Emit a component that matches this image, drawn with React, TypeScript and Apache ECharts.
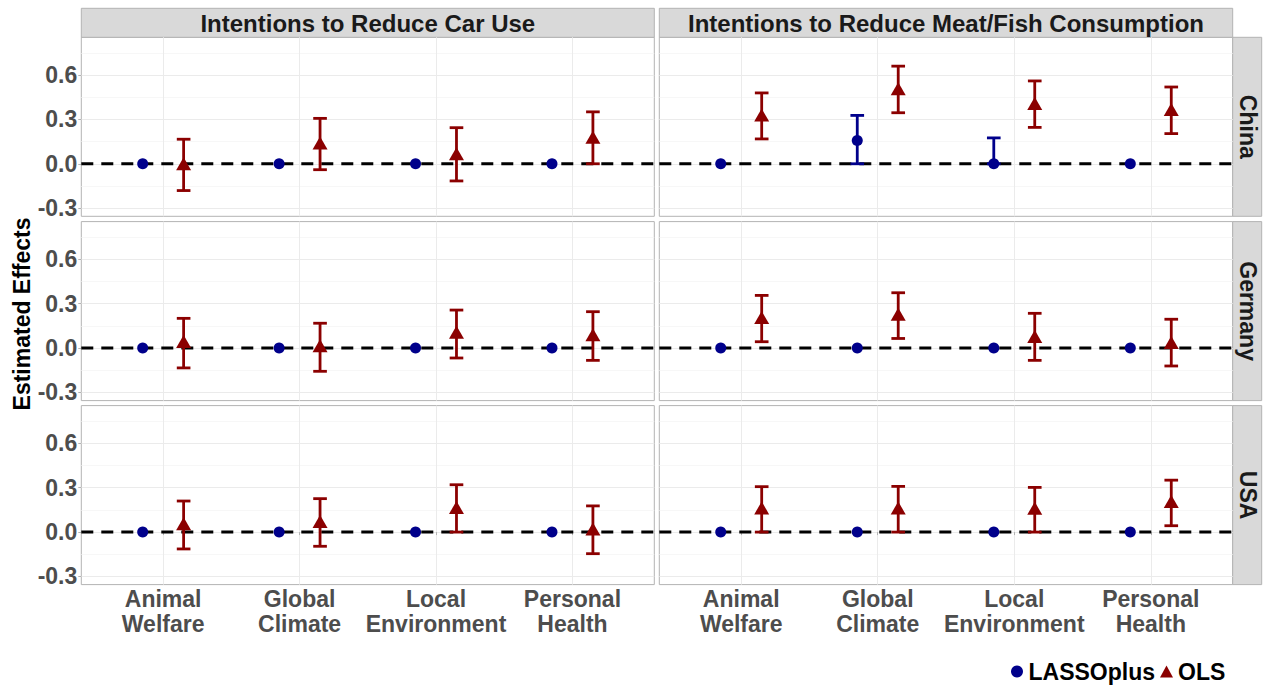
import { useEffect, useRef } from 'react';
import * as echarts from 'echarts';

// ---------- data ----------
const categories = ['Animal\nWelfare', 'Global\nClimate', 'Local\nEnvironment', 'Personal\nHealth'];
const outcomes = ['Intentions to Reduce Car Use', 'Intentions to Reduce Meat/Fish Consumption'];
const countries = ['China', 'Germany', 'USA'];
const yTicks = [-0.3, 0, 0.3, 0.6];
const yMinorTicks = [-0.15, 0.15, 0.45, 0.75];

// Car use
const carChinaOlsEst = [0.0, 0.14, 0.067, 0.18];
const carChinaOlsLow = [-0.181, -0.04, -0.116, 0.0];
const carChinaOlsHigh = [0.166, 0.307, 0.244, 0.351];
const carChinaLassoEst = [0, 0, 0, 0];
const carChinaLassoLow = [0, 0, 0, 0];
const carChinaLassoHigh = [0, 0, 0, 0];

const carGermanyOlsEst = [0.045, 0.016, 0.107, 0.09];
const carGermanyOlsLow = [-0.134, -0.157, -0.067, -0.083];
const carGermanyOlsHigh = [0.201, 0.168, 0.257, 0.246];
const carGermanyLassoEst = [0, 0, 0, 0];
const carGermanyLassoLow = [0, 0, 0, 0];
const carGermanyLassoHigh = [0, 0, 0, 0];

const carUsaOlsEst = [0.056, 0.072, 0.166, 0.02];
const carUsaOlsLow = [-0.114, -0.096, 0.0, -0.146];
const carUsaOlsHigh = [0.21, 0.226, 0.32, 0.177];
const carUsaLassoEst = [0, 0, 0, 0];
const carUsaLassoLow = [0, 0, 0, 0];
const carUsaLassoHigh = [0, 0, 0, 0];

// Meat / fish consumption
const meatChinaOlsEst = [0.329, 0.508, 0.407, 0.367];
const meatChinaOlsLow = [0.168, 0.345, 0.246, 0.204];
const meatChinaOlsHigh = [0.479, 0.66, 0.56, 0.519];
const meatChinaLassoEst = [0, 0.157, 0, 0];
const meatChinaLassoLow = [0, 0, 0, 0];
const meatChinaLassoHigh = [0, 0.327, 0.175, 0];

const meatGermanyOlsEst = [0.206, 0.228, 0.078, 0.038];
const meatGermanyOlsLow = [0.043, 0.065, -0.083, -0.121];
const meatGermanyOlsHigh = [0.356, 0.374, 0.235, 0.195];
const meatGermanyLassoEst = [0, 0, 0, 0];
const meatGermanyLassoLow = [0, 0, 0, 0];
const meatGermanyLassoHigh = [0, 0, 0, 0];

const meatUsaOlsEst = [0.163, 0.163, 0.161, 0.206];
const meatUsaOlsLow = [0.0, 0.0, 0.0, 0.043];
const meatUsaOlsHigh = [0.307, 0.309, 0.302, 0.351];
const meatUsaLassoEst = [0, 0, 0, 0];
const meatUsaLassoLow = [0, 0, 0, 0];
const meatUsaLassoHigh = [0, 0, 0, 0];

const facets = [
  { row: 0, col: 0, oE: carChinaOlsEst, oL: carChinaOlsLow, oH: carChinaOlsHigh, lE: carChinaLassoEst, lL: carChinaLassoLow, lH: carChinaLassoHigh },
  { row: 0, col: 1, oE: meatChinaOlsEst, oL: meatChinaOlsLow, oH: meatChinaOlsHigh, lE: meatChinaLassoEst, lL: meatChinaLassoLow, lH: meatChinaLassoHigh },
  { row: 1, col: 0, oE: carGermanyOlsEst, oL: carGermanyOlsLow, oH: carGermanyOlsHigh, lE: carGermanyLassoEst, lL: carGermanyLassoLow, lH: carGermanyLassoHigh },
  { row: 1, col: 1, oE: meatGermanyOlsEst, oL: meatGermanyOlsLow, oH: meatGermanyOlsHigh, lE: meatGermanyLassoEst, lL: meatGermanyLassoLow, lH: meatGermanyLassoHigh },
  { row: 2, col: 0, oE: carUsaOlsEst, oL: carUsaOlsLow, oH: carUsaOlsHigh, lE: carUsaLassoEst, lL: carUsaLassoLow, lH: carUsaLassoHigh },
  { row: 2, col: 1, oE: meatUsaOlsEst, oL: meatUsaOlsLow, oH: meatUsaOlsHigh, lE: meatUsaLassoEst, lL: meatUsaLassoLow, lH: meatUsaLassoHigh },
];

// ---------- layout / style ----------
const FONT = '"Liberation Sans", Arial, Helvetica, sans-serif';
const COL_LEFT = [81.3, 659.3];
const COL_W = [573, 573.4];
const ROW_TOP = [37.3, 221.6, 405.6];
const ROW_H = 179;
const STRIP_TOP = 8.3;
const RIGHT_STRIP_W = 29;
const BLUE = '#00008B';
const RED = '#8B0000';
const DODGE = 0.15;
const CAP = 0.1;

function errorBarSeries(name: string, color: string, gi: number, data: number[][]) {
  return {
    type: 'custom',
    name,
    xAxisIndex: gi,
    yAxisIndex: gi * 2,
    z: 4,
    silent: true,
    itemStyle: { color },
    encode: { x: 0, y: [1, 2] },
    data,
    renderItem: (_p: any, api: any) => {
      const x = api.value(0);
      const lo = api.value(1);
      const hi = api.value(2);
      const a = api.coord([x, lo]);
      const b = api.coord([x, hi]);
      const half = api.size([CAP, 0])[0] / 2;
      const style = { stroke: color, lineWidth: 2.8 };
      return {
        type: 'group',
        children: [
          { type: 'line', shape: { x1: a[0], y1: a[1], x2: b[0], y2: b[1] }, style },
          { type: 'line', shape: { x1: a[0] - half, y1: a[1], x2: a[0] + half, y2: a[1] }, style },
          { type: 'line', shape: { x1: b[0] - half, y1: b[1], x2: b[0] + half, y2: b[1] }, style },
        ],
      };
    },
  };
}

function buildOption() {
  const grid: any[] = [];
  const xAxis: any[] = [];
  const yAxis: any[] = [];
  const series: any[] = [];

  facets.forEach((f, gi) => {
    const isLeft = f.col === 0;
    const isBottom = f.row === 2;
    grid.push({
      left: COL_LEFT[f.col],
      top: ROW_TOP[f.row],
      width: COL_W[f.col],
      height: ROW_H,
      show: true,
      backgroundColor: '#ffffff',
      borderColor: '#b3b3b3',
      borderWidth: 1,
      containLabel: false,
      outerBoundsMode: 'none',
    });
    xAxis.push({
      type: 'value',
      gridIndex: gi,
      min: 0.4,
      max: 4.6,
      axisLine: { show: false },
      axisTick: { show: isBottom, customValues: [1, 2, 3, 4], length: 3, lineStyle: { color: '#b3b3b3', width: 1 } },
      axisLabel: {
        show: isBottom,
        customValues: [1, 2, 3, 4],
        formatter: (v: number) => categories[Math.round(v) - 1] ?? '',
        fontFamily: FONT,
        fontSize: 23,
        fontWeight: 'bold',
        color: '#4d4d4d',
        lineHeight: 25,
        margin: 2,
      },
      splitLine: { show: true, lineStyle: { color: '#ebebeb', width: 1 } },
    });
    yAxis.push({
      type: 'value',
      gridIndex: gi,
      min: -0.355,
      max: 0.855,
      axisLine: { show: false },
      axisTick: { show: isLeft, customValues: yTicks, length: 3, lineStyle: { color: '#b3b3b3', width: 1 } },
      axisLabel: {
        show: isLeft,
        customValues: yTicks,
        formatter: (v: number) => v.toFixed(1),
        fontFamily: FONT,
        fontSize: 23,
        fontWeight: 'bold',
        color: '#4d4d4d',
        margin: 4,
      },
      splitLine: { show: true, lineStyle: { color: '#ebebeb', width: 1 } },
    });
    yAxis.push({
      type: 'value',
      gridIndex: gi,
      min: -0.355,
      max: 0.855,
      axisLine: { show: false },
      axisTick: { show: false, customValues: yMinorTicks },
      axisLabel: { show: false, customValues: yMinorTicks },
      splitLine: { show: true, lineStyle: { color: '#f5f5f5', width: 0.8 } },
    });

    // zero reference line
    series.push({
      type: 'line',
      name: 'zero',
      xAxisIndex: gi,
      yAxisIndex: gi * 2,
      data: [[0.4, 0], [4.6, 0]],
      symbol: 'none',
      silent: true,
      z: 3,
      lineStyle: { color: '#000000', width: 3, type: [12, 8] },
    });

    const lassoBars: number[][] = [];
    const olsBars: number[][] = [];
    const lassoPts: number[][] = [];
    const olsPts: number[][] = [];
    categories.forEach((_c, i) => {
      const xl = i + 1 - DODGE;
      const xo = i + 1 + DODGE;
      if (f.lH[i] > f.lL[i]) lassoBars.push([xl, f.lL[i], f.lH[i]]);
      olsBars.push([xo, f.oL[i], f.oH[i]]);
      lassoPts.push([xl, f.lE[i]]);
      olsPts.push([xo, f.oE[i]]);
    });
    series.push(errorBarSeries('LASSOplus', BLUE, gi, lassoBars));
    series.push(errorBarSeries('OLS', RED, gi, olsBars));
    series.push({
      type: 'scatter',
      name: 'LASSOplus',
      xAxisIndex: gi,
      yAxisIndex: gi * 2,
      data: lassoPts,
      symbol: 'circle',
      symbolSize: 11,
      z: 5,
      silent: true,
      itemStyle: { color: BLUE, opacity: 1 },
    });
    series.push({
      type: 'scatter',
      name: 'OLS',
      xAxisIndex: gi,
      yAxisIndex: gi * 2,
      data: olsPts,
      symbol: 'triangle',
      symbolSize: [15, 13],
      z: 5,
      silent: true,
      itemStyle: { color: RED, opacity: 1 },
    });
  });

  const graphic: any[] = [];
  outcomes.forEach((t, c) => {
    graphic.push({
      type: 'rect',
      shape: { x: COL_LEFT[c], y: STRIP_TOP, width: COL_W[c], height: ROW_TOP[0] - STRIP_TOP },
      style: { fill: '#d9d9d9', stroke: '#b3b3b3', lineWidth: 1 },
      silent: true,
    });
    graphic.push({
      type: 'text',
      x: COL_LEFT[c] + COL_W[c] / 2,
      y: (STRIP_TOP + ROW_TOP[0]) / 2 + 1,
      silent: true,
      style: {
        text: t,
        fill: '#1a1a1a',
        font: `bold 24px ${FONT}`,
        textAlign: 'center',
        textVerticalAlign: 'middle',
        align: 'center',
        verticalAlign: 'middle',
      },
    });
  });
  const stripX = COL_LEFT[1] + COL_W[1];
  countries.forEach((name, r) => {
    graphic.push({
      type: 'rect',
      shape: { x: stripX, y: ROW_TOP[r], width: RIGHT_STRIP_W, height: ROW_H },
      style: { fill: '#d9d9d9', stroke: '#b3b3b3', lineWidth: 1 },
      silent: true,
    });
    graphic.push({
      type: 'text',
      x: stripX + RIGHT_STRIP_W / 2 + 1,
      y: ROW_TOP[r] + ROW_H / 2,
      rotation: -Math.PI / 2,
      silent: true,
      style: {
        text: name,
        fill: '#1a1a1a',
        font: `bold 23px ${FONT}`,
        textAlign: 'center',
        textVerticalAlign: 'middle',
        align: 'center',
        verticalAlign: 'middle',
      },
    });
  });
  graphic.push({
    type: 'text',
    x: 22,
    y: (ROW_TOP[0] + ROW_TOP[2] + ROW_H) / 2 + 3,
    rotation: Math.PI / 2,
    silent: true,
    style: {
      text: 'Estimated Effects',
      fill: '#000000',
      font: `bold 23px ${FONT}`,
      textAlign: 'center',
      textVerticalAlign: 'middle',
      align: 'center',
      verticalAlign: 'middle',
    },
  });

  return {
    animation: false,
    backgroundColor: '#ffffff',
    textStyle: { fontFamily: FONT },
    grid,
    xAxis,
    yAxis,
    series,
    graphic,
    legend: {
      left: 1006,
      top: 655,
      orient: 'horizontal',
      itemWidth: 13,
      itemHeight: 12,
      itemGap: 5,
      selectedMode: false,
      textStyle: { fontFamily: FONT, fontSize: 23, fontWeight: 'bold', color: '#000000' },
      data: [
        { name: 'LASSOplus', icon: 'circle', itemStyle: { color: BLUE } },
        { name: 'OLS', icon: 'triangle', itemStyle: { color: RED } },
      ],
    },
  };
}

export default function App() {
  const ref = useRef<HTMLDivElement>(null);
  useEffect(() => {
    document.body.style.margin = '0';
    if (!ref.current) return;
    const chart = echarts.init(ref.current, undefined, { renderer: 'svg' });
    chart.setOption(buildOption() as any);
    return () => chart.dispose();
  }, []);
  return <div ref={ref} style={{ width: 1263, height: 687 }} />;
}
